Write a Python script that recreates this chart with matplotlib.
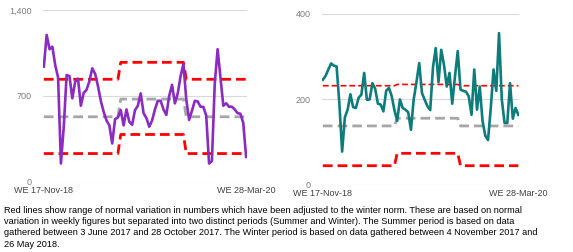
import numpy as np
import matplotlib.pyplot as plt

plt.rcParams['font.family'] = ['Liberation Sans', 'DejaVu Sans']

# weekly figures, WE 17-Nov-18 .. WE 28-Mar-20 (72 weeks)
left_values = [938, 1196, 1080, 1100, 950, 850, 150, 450, 870, 860,
               680, 815, 840, 620, 725, 750, 820, 924, 880, 780,
               660, 570, 500, 460, 313, 510, 525, 584, 460, 590,
               490, 465, 584, 620, 720, 560, 520, 449, 500, 590,
               660, 660, 590, 545, 700, 790, 639, 720, 860, 960,
               670, 505, 580, 660, 655, 612, 610, 540, 150, 170,
               802, 1080, 850, 620, 640, 612, 612, 590, 560, 555,
               480, 204]
right_values = [246, 255, 270, 284, 279, 277, 190, 78, 158, 176,
                212, 182, 180, 204, 211, 262, 199, 200, 238, 225,
                190, 188, 172, 220, 227, 208, 175, 150, 200, 180,
                176, 170, 129, 200, 240, 285, 215, 199, 184, 175,
                275, 320, 240, 316, 281, 230, 262, 190, 254, 313,
                223, 220, 218, 207, 164, 270, 176, 230, 150, 115,
                105, 180, 270, 220, 355, 200, 145, 145, 238, 155,
                180, 164]

# season of each week: W = winter norm, S = summer norm
season = ['W'] * 27 + ['S'] * 23 + ['W'] * 22

# (winter, summer) values for the norm lines
left_upper = (835, 973)
left_mean = (530, 674)
left_lower = (231, 386)
right_upper = (232, 235)
right_mean = (138, 156)
right_lower = (45, 74)

x_labels = ['WE 17-Nov-18', 'WE 28-Mar-20']

caption = ("Red lines show range of normal variation in numbers which have been adjusted to the winter norm. These are based on normal\n"
           "variation in weekly figures but separated into two distinct periods (Summer and Winter). The Summer period is based on data\n"
           "gathered between 3 June 2017 and 28 October 2017. The Winter period is based on data gathered between 4 November 2017 and\n"
           "26 May 2018.")


def by_season(pair):
    return [pair[0] if s == 'W' else pair[1] for s in season]


def draw(ax, values, color, upper, mean, lower, ymax, yticks, yticklabels, red_lw):
    x = np.arange(len(values))
    ax.plot(x, by_season(upper), color='#ff0000', lw=red_lw, ls=(0, (3.5, 1.8)))
    ax.plot(x, by_season(lower), color='#ff0000', lw=2.0, ls=(0, (3.5, 1.8)))
    ax.plot(x, by_season(mean), color='#a6a6a6', lw=2.0, ls=(0, (3.5, 1.8)))
    ax.plot(x, values, color=color, lw=1.9)
    ax.set_xlim(-0.3, len(values) - 0.7)
    ax.set_ylim(0, ymax)
    ax.set_yticks(yticks)
    ax.set_yticklabels(yticklabels)
    ax.set_xticks([0, len(values) - 1])
    ax.set_xticklabels(x_labels)
    ax.grid(axis='y', color='#d9d9d9', lw=0.8)
    ax.set_axisbelow(True)
    for s in ax.spines.values():
        s.set_visible(False)
    ax.tick_params(axis='y', length=0, pad=8, labelsize=6.5, labelcolor='#7f7f7f')
    ax.tick_params(axis='x', length=0, pad=3, labelsize=6.5, labelcolor='#404040')


fig = plt.figure(figsize=(5.73, 2.52), dpi=100)
ax1 = fig.add_axes([0.075, 0.278, 0.356, 0.683])
ax2 = fig.add_axes([0.562, 0.266, 0.344, 0.679])

draw(ax1, left_values, '#8a2bc2', left_upper, left_mean, left_lower,
     1400, [0, 700, 1400], ['0', '700', '1,400'], 2.0)
draw(ax2, right_values, '#0e7c7b', right_upper, right_mean, right_lower,
     400, [0, 200, 400], ['0', '200', '400'], 1.2)

fig.text(0.007, 0.183, caption, fontsize=6.6, va='top', ha='left', linespacing=1.32)

fig.savefig('out.png', dpi=100)
